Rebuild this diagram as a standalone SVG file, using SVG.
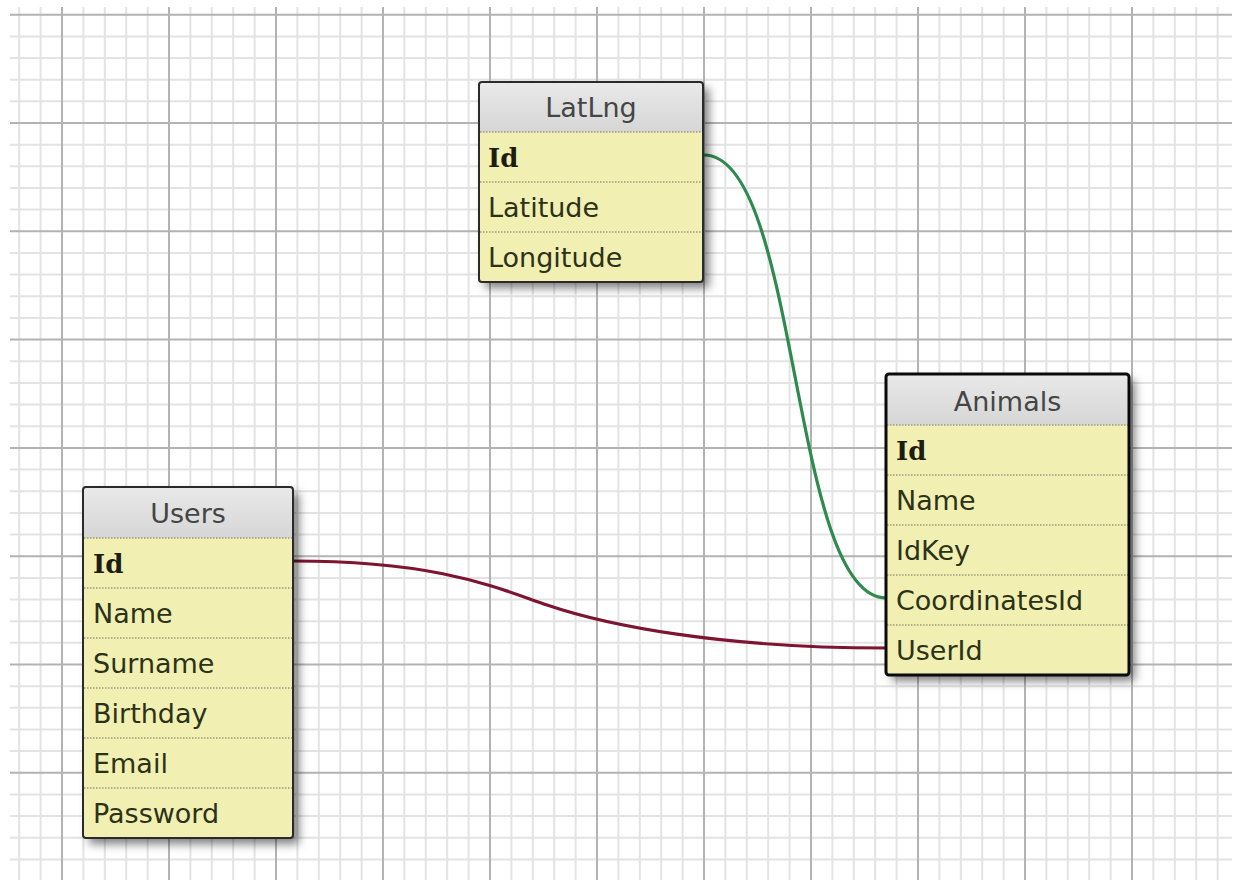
<svg xmlns="http://www.w3.org/2000/svg" width="1238" height="883" viewBox="0 0 1238 883">
<style>
.minor{stroke:#e3e3e3;stroke-width:2;fill:none}
.major{stroke:#b3b3b3;stroke-width:2;fill:none}
.row{fill:#f1efb2}
.hdr{fill:url(#hg)}
.sep{stroke:#9a9a80;stroke-width:1.5;stroke-dasharray:1.5 1.5}
.border{fill:none;stroke:#2a2a2a;stroke-width:2}
.sel{fill:none;stroke:#0a0a0a;stroke-width:3}
.ht{font-family:"DejaVu Sans",Verdana,sans-serif;font-size:27px;fill:#454545;text-anchor:middle}
.ft{font-family:"DejaVu Sans",Verdana,sans-serif;font-size:27px;fill:#2c3218}
.pk{font-family:"DejaVu Serif",Georgia,serif;font-size:26px;font-weight:bold;fill:#1c1c10}
.link{fill:none;stroke-width:3.2;stroke-linecap:round}
</style>
<defs>
<linearGradient id="hg" x1="0" y1="0" x2="0" y2="1">
<stop offset="0" stop-color="#e9e9e9"/>
<stop offset="1" stop-color="#d6d6d6"/>
</linearGradient>
<filter id="sh" x="-15%" y="-15%" width="140%" height="140%">
<feDropShadow dx="6" dy="6" stdDeviation="5" flood-color="#000" flood-opacity="0.5"/>
</filter>
</defs>
<rect width="1238" height="883" fill="#ffffff"/>
<g id="grid">
<path class="minor" d="M19.2 7V880M40.6 7V880M83.4 7V880M104.8 7V880M126.2 7V880M147.6 7V880M190.4 7V880M211.8 7V880M233.2 7V880M254.6 7V880M297.4 7V880M318.8 7V880M340.2 7V880M361.6 7V880M404.4 7V880M425.8 7V880M447.2 7V880M468.6 7V880M511.4 7V880M532.8 7V880M554.2 7V880M575.6 7V880M618.4 7V880M639.8 7V880M661.2 7V880M682.6 7V880M725.4 7V880M746.8 7V880M768.2 7V880M789.6 7V880M832.4 7V880M853.8 7V880M875.2 7V880M896.6 7V880M939.4 7V880M960.8 7V880M982.2 7V880M1003.6 7V880M1046.4 7V880M1067.8 7V880M1089.2 7V880M1110.6 7V880M1153.4 7V880M1174.8 7V880M1196.2 7V880M1217.6 7V880
M10 36.4H1232M10 58H1232M10 79.7H1232M10 101.3H1232M10 144.7H1232M10 166.3H1232M10 188H1232M10 209.6H1232M10 253H1232M10 274.6H1232M10 296.3H1232M10 317.9H1232M10 361.3H1232M10 382.9H1232M10 404.6H1232M10 426.2H1232M10 469.6H1232M10 491.2H1232M10 512.9H1232M10 534.5H1232M10 577.9H1232M10 599.5H1232M10 621.2H1232M10 642.8H1232M10 686.2H1232M10 707.8H1232M10 729.5H1232M10 751.1H1232M10 794.5H1232M10 816.1H1232M10 837.8H1232M10 859.4H1232"/>
<path class="major" d="M62 7V880M169 7V880M276 7V880M383 7V880M490 7V880M597 7V880M704 7V880M811 7V880M918 7V880M1025 7V880M1132 7V880
M10 14.7H1232M10 123H1232M10 231.3H1232M10 339.6H1232M10 447.9H1232M10 556.2H1232M10 664.5H1232M10 772.8H1232"/>
</g>
<g id="connectors">
<path class="link" stroke="#2f8a4e" d="M704 155C800 155 790 598 886 598"/>
<path class="link" stroke="#7d1432" d="M293 561C440 561 497 588 547 605C607 625.4 720 648 886 648"/>
</g>
<g id="LatLng">
<rect x="479" y="82" width="224" height="200" rx="3" class="row" filter="url(#sh)"/>
<rect x="479" y="82" width="224" height="50" class="hdr"/>
<path class="sep" d="M480 132H702M480 182H702M480 232H702"/>
<rect x="479" y="82" width="224" height="200" rx="3" class="border"/>
<text class="ht" x="591" y="117">LatLng</text>
<text class="pk" x="488" y="167">Id</text>
<text class="ft" x="488" y="217">Latitude</text>
<text class="ft" x="488" y="267">Longitude</text>
</g>
<g id="Animals">
<rect x="886" y="374" width="243" height="301" rx="3" class="row" filter="url(#sh)"/>
<rect x="886" y="374" width="243" height="51" class="hdr"/>
<path class="sep" d="M887 425H1128M887 475H1128M887 525H1128M887 575H1128M887 625H1128"/>
<rect x="886" y="374" width="243" height="301" rx="3" class="sel"/>
<text class="ht" x="1007.5" y="411">Animals</text>
<text class="pk" x="896" y="460">Id</text>
<text class="ft" x="896" y="510">Name</text>
<text class="ft" x="896" y="560">IdKey</text>
<text class="ft" x="896" y="610">CoordinatesId</text>
<text class="ft" x="896" y="660">UserId</text>
</g>
<g id="Users">
<rect x="83" y="487" width="210" height="351" rx="3" class="row" filter="url(#sh)"/>
<rect x="83" y="487" width="210" height="51" class="hdr"/>
<path class="sep" d="M84 538H292M84 588H292M84 638H292M84 688H292M84 738H292M84 788H292"/>
<rect x="83" y="487" width="210" height="351" rx="3" class="border"/>
<text class="ht" x="188" y="523">Users</text>
<text class="pk" x="93" y="573">Id</text>
<text class="ft" x="93" y="623">Name</text>
<text class="ft" x="93" y="673">Surname</text>
<text class="ft" x="93" y="723">Birthday</text>
<text class="ft" x="93" y="773">Email</text>
<text class="ft" x="93" y="823">Password</text>
</g>
</svg>
